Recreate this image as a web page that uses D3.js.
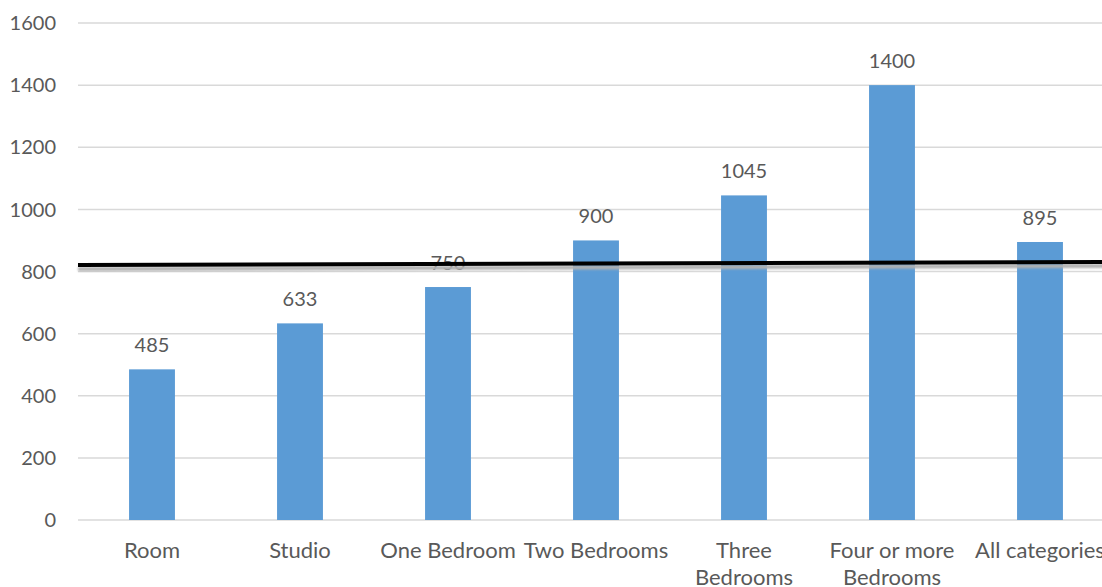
<!DOCTYPE html>
<html>
<head>
<meta charset="utf-8">
<script src="https://cdn.jsdelivr.net/npm/d3@7/dist/d3.min.js"></script>
<style>
  html, body { margin: 0; padding: 0; background: #fff; }
  svg { display: block; }
  text { font-family: Lato, "Open Sans", sans-serif; fill: #595959; }
</style>
</head>
<body>
<svg id="chart" width="1102" height="587"></svg>
<script>
// Median rent by dwelling type
const categories = [
  ["Room"],
  ["Studio"],
  ["One Bedroom"],
  ["Two Bedrooms"],
  ["Three", "Bedrooms"],
  ["Four or more", "Bedrooms"],
  ["All categories"]
];
const values = [485, 633, 750, 900, 1045, 1400, 895];
const yTicks = [0, 200, 400, 600, 800, 1000, 1200, 1400, 1600];
// Hand-drawn reference line: value at the left and right end of the plot
const refLine = [821, 831];

const svg = d3.select("#chart");
const plotLeft = 78, plotRight = 1114, plotTop = 23, plotBottom = 520;

const x = d3.scaleBand()
  .domain(d3.range(categories.length))
  .range([plotLeft, plotRight])
  .paddingInner(0.69)
  .paddingOuter(0.345);

const y = d3.scaleLinear().domain([0, 1600]).range([plotBottom, plotTop]);

// Gridlines
svg.append("g")
  .selectAll("line")
  .data(yTicks)
  .join("line")
  .attr("x1", plotLeft).attr("x2", plotRight)
  .attr("y1", d => y(d)).attr("y2", d => y(d))
  .attr("stroke", "#d9d9d9")
  .attr("stroke-width", 1.5);

// Y tick labels
svg.append("g")
  .selectAll("text")
  .data(yTicks)
  .join("text")
  .attr("x", 56)
  .attr("y", d => y(d))
  .attr("dy", "0.36em")
  .attr("text-anchor", "end")
  .attr("font-size", 20)
  .text(d => d);

// Bars
svg.append("g")
  .selectAll("rect")
  .data(values)
  .join("rect")
  .attr("x", (d, i) => x(i))
  .attr("width", x.bandwidth())
  .attr("y", d => y(d))
  .attr("height", d => y(0) - y(d))
  .attr("fill", "#5b9bd5");

// Value labels
svg.append("g")
  .selectAll("text")
  .data(values)
  .join("text")
  .attr("x", (d, i) => x(i) + x.bandwidth() / 2)
  .attr("y", d => y(d) - 17)
  .attr("text-anchor", "middle")
  .attr("font-size", 20)
  .text(d => d);

// Category labels
const cat = svg.append("g")
  .selectAll("text")
  .data(categories)
  .join("text")
  .attr("x", (d, i) => x(i) + x.bandwidth() / 2)
  .attr("y", 558)
  .attr("text-anchor", "middle")
  .attr("font-size", 22);
cat.selectAll("tspan")
  .data(d => d)
  .join("tspan")
  .attr("x", function () { return d3.select(this.parentNode).attr("x"); })
  .attr("dy", (d, i) => i === 0 ? 0 : 27)
  .text(d => d);

// Reference line with soft shadow
const defs = svg.append("defs");
defs.append("filter").attr("id", "soft")
  .attr("x", "-5%").attr("y", "-200%").attr("width", "110%").attr("height", "500%")
  .append("feGaussianBlur").attr("stdDeviation", 1.2);

svg.append("line")
  .attr("x1", plotLeft).attr("x2", plotRight)
  .attr("y1", y(refLine[0]) + 4).attr("y2", y(refLine[1]) + 4)
  .attr("stroke", "#b0b0b0")
  .attr("stroke-width", 4)
  .attr("filter", "url(#soft)");

svg.append("line")
  .attr("x1", plotLeft).attr("x2", plotRight)
  .attr("y1", y(refLine[0])).attr("y2", y(refLine[1]))
  .attr("stroke", "#000")
  .attr("stroke-width", 4);
</script>
</body>
</html>
